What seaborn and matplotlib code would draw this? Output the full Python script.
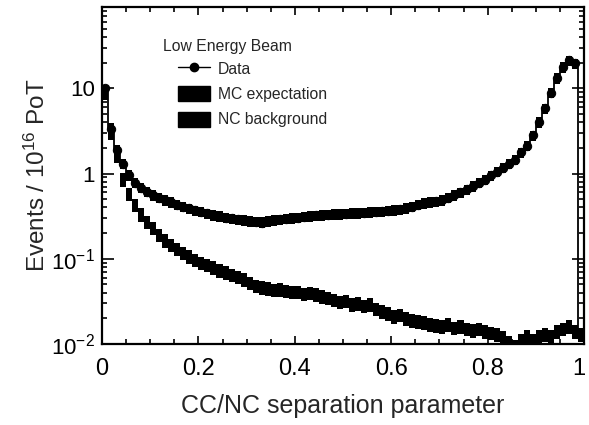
import numpy as np
import pandas as pd
import matplotlib
matplotlib.use("Agg")
import matplotlib.pyplot as plt
import matplotlib.transforms as mtransforms
import seaborn as sns
from matplotlib.lines import Line2D
from matplotlib.patches import Patch
from matplotlib.ticker import LogLocator, MultipleLocator, NullFormatter

# ---------------- data (80 bins, width 0.0125) ----------------
bin_width = 0.0125
bin_centers = np.arange(80) * bin_width + bin_width / 2

data_events = [
    10.0, 3.3, 1.9, 1.3, 0.95, 0.78, 0.68, 0.61, 0.56, 0.52,
    0.49, 0.46, 0.43, 0.41, 0.39, 0.37, 0.355, 0.34, 0.325, 0.315,
    0.305, 0.298, 0.29, 0.283, 0.277, 0.272, 0.265, 0.275, 0.283, 0.29,
    0.295, 0.30, 0.305, 0.31, 0.318, 0.322, 0.326, 0.33, 0.333, 0.336,
    0.338, 0.342, 0.345, 0.348, 0.352, 0.356, 0.36, 0.365, 0.372, 0.38,
    0.395, 0.41, 0.43, 0.45, 0.46, 0.47, 0.49, 0.52, 0.56, 0.60,
    0.65, 0.71, 0.78, 0.85, 0.95, 1.05, 1.17, 1.30, 1.46, 1.77,
    2.13, 2.8, 4.0, 5.8, 8.9, 13.1, 17.7, 21.3, 19.6, 0.013,
]

mc_expectation = [
    9.6, 3.4, 1.9, 1.3, 0.96, 0.78, 0.68, 0.61, 0.56, 0.52,
    0.49, 0.46, 0.43, 0.41, 0.39, 0.37, 0.355, 0.34, 0.325, 0.315,
    0.305, 0.298, 0.29, 0.283, 0.277, 0.272, 0.268, 0.275, 0.283, 0.29,
    0.295, 0.30, 0.305, 0.31, 0.318, 0.322, 0.326, 0.33, 0.333, 0.336,
    0.338, 0.342, 0.345, 0.348, 0.352, 0.356, 0.36, 0.365, 0.372, 0.38,
    0.395, 0.41, 0.43, 0.45, 0.46, 0.47, 0.49, 0.52, 0.56, 0.60,
    0.65, 0.71, 0.78, 0.85, 0.95, 1.05, 1.17, 1.30, 1.46, 1.77,
    2.13, 2.8, 4.0, 5.8, 8.9, 13.1, 17.7, 21.0, 19.6, 0.013,
]

nc_background = [
    9.0, 3.0, 1.6, 0.85, 0.58, 0.43, 0.33, 0.27, 0.23, 0.19,
    0.165, 0.145, 0.13, 0.118, 0.107, 0.097, 0.09, 0.085, 0.079, 0.073,
    0.069, 0.065, 0.061, 0.057, 0.052, 0.048, 0.046, 0.045, 0.043, 0.044,
    0.042, 0.041, 0.041, 0.039, 0.040, 0.038, 0.036, 0.035, 0.033, 0.031,
    0.032, 0.029, 0.030, 0.028, 0.029, 0.026, 0.024, 0.023, 0.021, 0.022,
    0.020, 0.019, 0.0185, 0.018, 0.017, 0.0165, 0.016, 0.017, 0.0155, 0.016,
    0.015, 0.0145, 0.015, 0.014, 0.0135, 0.013, 0.012, 0.0105, 0.0095, 0.011,
    0.0125, 0.011, 0.0125, 0.013, 0.0125, 0.014, 0.015, 0.016, 0.014, 0.013,
]

mc_rel_err = 0.14
nc_rel_err = 0.18

x_ticks = [0, 0.2, 0.4, 0.6, 0.8, 1]
x_tick_labels = ["0", "0.2", "0.4", "0.6", "0.8", "1"]
y_ticks = [0.01, 0.1, 1, 10]
y_tick_labels = [r"$10^{-2}$", r"$10^{-1}$", "1", "10"]

legend_title = "Low Energy Beam"
legend_labels = ["Data", "MC expectation", "NC background"]
x_label = "CC/NC separation parameter"
y_label = r"Events / 10$^{16}$ PoT"

# ---------------- style ----------------
sns.set_style("ticks")
plt.rcParams["font.family"] = ["Liberation Sans", "DejaVu Sans"]
plt.rcParams["mathtext.fontset"] = "custom"
plt.rcParams["mathtext.rm"] = "Liberation Sans"
plt.rcParams["mathtext.it"] = "Liberation Sans:italic"
plt.rcParams["mathtext.bf"] = "Liberation Sans:bold"

fig = plt.figure(figsize=(5.89, 4.25), dpi=100)
ax = fig.add_axes([102 / 589, 1 - 344 / 425, (584 - 102) / 589, (344 - 7) / 425])

df = pd.DataFrame({
    "x": bin_centers,
    "data": data_events,
    "mc": mc_expectation,
    "nc": nc_background,
})

# NC background band
nc = df["nc"].to_numpy()
ax.bar(df["x"], nc * (1 + nc_rel_err) - nc * (1 - nc_rel_err),
       bottom=nc * (1 - nc_rel_err), width=bin_width, color="black",
       edgecolor="none", zorder=2)

# MC expectation band
mc = df["mc"].to_numpy()
ax.bar(df["x"], mc * (1 + mc_rel_err) - mc * (1 - mc_rel_err),
       bottom=mc * (1 - mc_rel_err), width=bin_width, color="black",
       edgecolor="none", zorder=3)

# Data
sns.lineplot(data=df, x="x", y="data", ax=ax, color="black",
             drawstyle="steps-mid", linewidth=1.3, marker="o",
             markersize=6, markeredgecolor="black", zorder=4)

ax.set_yscale("log")
ax.set_xlim(0, 1)
ax.set_ylim(0.01, 90)

ax.set_xticks(x_ticks)
ax.set_xticklabels(x_tick_labels)
ax.xaxis.set_minor_locator(MultipleLocator(0.05))
ax.set_yticks(y_ticks)
ax.set_yticklabels(y_tick_labels)
ax.yaxis.set_minor_locator(LogLocator(base=10, subs=np.arange(2, 10)))
ax.yaxis.set_minor_formatter(NullFormatter())

ax.tick_params(which="both", direction="in", top=True, right=True,
               width=1.2, colors="black")
ax.tick_params(axis="x", which="major", length=6, pad=10, labelsize=17)
ax.tick_params(axis="y", which="major", length=8.5, pad=5, labelsize=16)
ax.tick_params(which="minor", length=3.5)

# keep the "1" label inside the figure
last_lbl = ax.get_xticklabels()[-1]
last_lbl.set_transform(last_lbl.get_transform() +
                       mtransforms.ScaledTranslation(-5 / 100, 0, fig.dpi_scale_trans))

for s in ax.spines.values():
    s.set_linewidth(1.6)
    s.set_color("black")

ax.set_xlabel(x_label, fontsize=18)
ax.set_ylabel(y_label, fontsize=17.5)
ax.xaxis.set_label_coords(0.5, -(394 - 344) / 337)
ax.yaxis.set_label_coords((50 - 102) / 482, 0.5)

# Legend
ax.text((163 - 102) / 482, 1 - (46 - 7) / 337, legend_title,
        transform=ax.transAxes, fontsize=11.3, ha="left", va="center")
handles = [
    Line2D([0], [0], color="black", marker="o", markersize=6, linewidth=1),
    Patch(facecolor="black", edgecolor="black"),
    Patch(facecolor="black", edgecolor="black"),
]
ax.legend(handles, legend_labels, loc="upper left",
          bbox_to_anchor=((178 - 102) / 482, 1 - (61 - 7) / 337),
          frameon=False, fontsize=11.3, handlelength=2.05, handleheight=1.1,
          labelspacing=0.6, handletextpad=0.5, borderaxespad=0, borderpad=0)

fig.savefig("out.png", dpi=100)
